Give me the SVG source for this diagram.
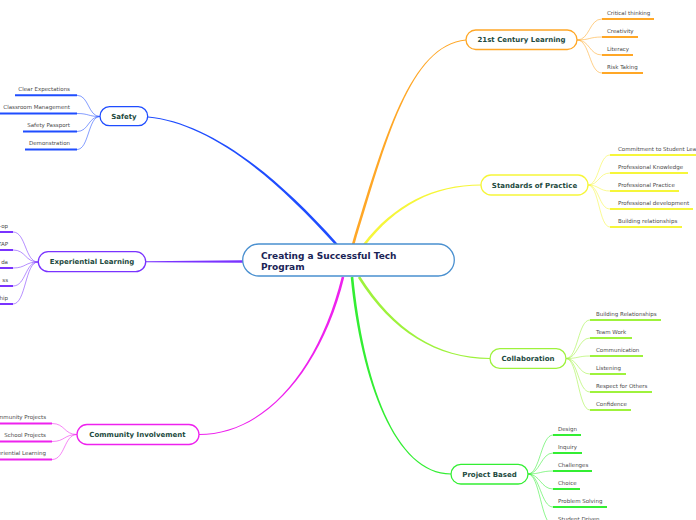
<svg xmlns="http://www.w3.org/2000/svg" width="696" height="520" viewBox="0 0 696 520">
<style>
.bg{fill:#ffffff}
.node{fill:#ffffff;stroke-width:1.3}
.title{font-family:"DejaVu Sans",Verdana,sans-serif;font-weight:bold;font-size:7px;fill:#1d4a3e;text-anchor:middle}
.central{font-family:"DejaVu Sans",Verdana,sans-serif;font-weight:bold;font-size:9px;fill:#1a2456}
.leaf{font-family:"DejaVu Sans",Verdana,sans-serif;font-size:5.5px;fill:#4a4a4a}
.end{text-anchor:end}
.main{stroke:none}
.twig{fill:none;stroke-width:1;stroke-opacity:0.55}
.ul{fill:none;stroke-width:2}
.blue{stroke:#1f4dff}
.purple{stroke:#7a33ff}
.magenta{stroke:#ee22ee}
.orange{stroke:#ffa726}
.yellow{stroke:#f6f63a}
.lime{stroke:#9ef23c}
.green{stroke:#33ee33}
.f-blue{fill:#1f4dff}
.f-purple{fill:#7a33ff}
.f-magenta{fill:#ee22ee}
.f-orange{fill:#ffa726}
.f-yellow{fill:#f6f63a}
.f-lime{fill:#9ef23c}
.f-green{fill:#33ee33}
</style>
<rect class="bg" x="0" y="0" width="696" height="520"/>

<g id="connectors">
  <path class="main f-blue" d="M337.97,244.14 C266.67,163.84 202.75,121.8 148.05,116.5 L147.95,117.5 C202.65,122.8 264.73,165.56 336.03,245.86 Z"/>
  <path class="main f-orange" d="M354.24,245.38 C386.24,140.38 410.05,45.5 466.05,40.5 L465.95,39.5 C409.95,44.5 383.76,139.62 351.76,244.62 Z"/>
  <path class="main f-yellow" d="M365.03,245.79 C395.73,205.79 433.7,185.5 481,185.5 L481,184.5 C433.7,184.5 393.67,204.21 362.97,244.21 Z"/>
  <path class="main f-lime" d="M357.9,277.69 C391.9,331.69 436.7,358.7 490,359 L490,358 C436.7,357.7 394.1,330.31 360.1,276.31 Z"/>
  <path class="main f-green" d="M350.71,277.13 C360.71,380.13 395,474.5 451,474.5 L451,473.5 C395,473.5 363.29,379.87 353.29,276.87 Z"/>
  <path class="main f-magenta" d="M341.74,276.69 C318.74,369.69 265,434 199,434 L199,435 C265,435 321.26,370.31 344.26,277.31 Z"/>
  <path class="main f-purple" d="M243,260.2 L145.5,261.2 L145.5,262.2 L243,262.8 Z"/>

  <!-- Safety leaves -->
  <path class="twig blue" d="M100,116.5 C88,116.5 89,95.3 77,95.3"/>
  <path class="twig blue" d="M100,116.5 C88,116.5 89,113.5 77,113.5"/>
  <path class="twig blue" d="M100,116.5 C88,116.5 89,131.5 77,131.5"/>
  <path class="twig blue" d="M100,116.5 C88,116.5 89,149.5 77,149.5"/>
  <path class="ul blue" d="M15,95.3H77M0,113.5H77M23,131.5H77M25,149.5H77"/>

  <!-- Experiential leaves -->
  <path class="twig purple" d="M38,262 C25,262 26,232 13,232"/>
  <path class="twig purple" d="M38,262 C25,262 26,250 13,250"/>
  <path class="twig purple" d="M38,262 C25,262 26,268 13,268"/>
  <path class="twig purple" d="M38,262 C25,262 26,286 13,286"/>
  <path class="twig purple" d="M38,262 C25,262 26,304 13,304"/>
  <path class="ul purple" d="M0,232H13M0,250H13M0,268H13M0,286H13M0,304H13"/>

  <!-- Community leaves -->
  <path class="twig magenta" d="M77,434.5 C64,434.5 65,423.5 52,423.5"/>
  <path class="twig magenta" d="M77,434.5 C64,434.5 65,441.5 52,441.5"/>
  <path class="twig magenta" d="M77,434.5 C64,434.5 65,459.5 52,459.5"/>
  <path class="ul magenta" d="M0,423.5H52M0,441.5H52M0,459.5H52"/>

  <!-- 21st Century leaves -->
  <path class="twig orange" d="M577,40 C590,40 589,19 602,19"/>
  <path class="twig orange" d="M577,40 C590,40 589,37 602,37"/>
  <path class="twig orange" d="M577,40 C590,40 589,55 602,55"/>
  <path class="twig orange" d="M577,40 C590,40 589,73 602,73"/>
  <path class="ul orange" d="M602,19H654M602,37H638M602,55H633M602,73H643"/>

  <!-- Standards leaves -->
  <path class="twig yellow" d="M588,185 C599,185 599,155 610,155"/>
  <path class="twig yellow" d="M588,185 C599,185 599,173 610,173"/>
  <path class="twig yellow" d="M588,185 C599,185 599,191 610,191"/>
  <path class="twig yellow" d="M588,185 C599,185 599,209 610,209"/>
  <path class="twig yellow" d="M588,185 C599,185 599,227 610,227"/>
  <path class="ul yellow" d="M610,155H700M610,173H688M610,191H679M610,209H693M610,227H682"/>

  <!-- Collaboration leaves -->
  <path class="twig lime" d="M566,358.5 C578,358.5 578,320 590,320"/>
  <path class="twig lime" d="M566,358.5 C578,358.5 578,338 590,338"/>
  <path class="twig lime" d="M566,358.5 C578,358.5 578,356 590,356"/>
  <path class="twig lime" d="M566,358.5 C578,358.5 578,374 590,374"/>
  <path class="twig lime" d="M566,358.5 C578,358.5 578,392 590,392"/>
  <path class="twig lime" d="M566,358.5 C578,358.5 578,410 590,410"/>
  <path class="ul lime" d="M590,320H661M590,338H632M590,356H643M590,374H626M590,392H652M590,410H631"/>

  <!-- Project Based leaves -->
  <path class="twig green" d="M528,474 C540,474 541,435 553,435"/>
  <path class="twig green" d="M528,474 C540,474 541,453 553,453"/>
  <path class="twig green" d="M528,474 C540,474 541,471 553,471"/>
  <path class="twig green" d="M528,474 C540,474 541,489 553,489"/>
  <path class="twig green" d="M528,474 C540,474 541,507 553,507"/>
  <path class="twig green" d="M528,474 C540,474 541,525 553,525"/>
  <path class="ul green" d="M553,435H581M553,453H582M553,471H592M553,489H580M553,507H607M553,525H601"/>
</g>

<g id="central">
  <rect class="node" x="242.7" y="244" width="211.6" height="32" rx="16" stroke="#4a90d0" stroke-width="1.1"/>
  <text class="central" x="261" y="259">Creating a Successful Tech</text>
  <text class="central" x="261" y="269.5">Program</text>
</g>

<g id="safety">
  <rect class="node blue" x="100" y="106.7" width="47.7" height="19" rx="9.5"/>
  <text class="title" x="123.9" y="118.8">Safety</text>
  <text class="leaf end" x="70" y="90.8">Clear Expectations</text>
  <text class="leaf end" x="70" y="109">Classroom Management</text>
  <text class="leaf end" x="70" y="127">Safety Passport</text>
  <text class="leaf end" x="70" y="145">Demonstration</text>
</g>

<g id="experiential">
  <rect class="node purple" x="38.3" y="251.7" width="107.4" height="20" rx="10"/>
  <text class="title" x="92" y="264.3">Experiential Learning</text>
  <text class="leaf end" x="8" y="227.5">-op</text>
  <text class="leaf end" x="8" y="245.5">TAP</text>
  <text class="leaf end" x="8" y="263.5">da</text>
  <text class="leaf end" x="8" y="281.5">ss</text>
  <text class="leaf end" x="8" y="299.5">hip</text>
</g>

<g id="community">
  <rect class="node magenta" x="77" y="424.5" width="122" height="20" rx="10"/>
  <text class="title" x="137.5" y="437.1">Community Involvement</text>
  <text class="leaf end" x="46" y="419">Community Projects</text>
  <text class="leaf end" x="46" y="437">School Projects</text>
  <text class="leaf end" x="46" y="455">Experiential Learning</text>
</g>

<g id="century">
  <rect class="node orange" x="466" y="30" width="111" height="19.5" rx="9.75"/>
  <text class="title" x="521.5" y="42.4">21st Century Learning</text>
  <text class="leaf" x="607" y="14.5">Critical thinking</text>
  <text class="leaf" x="607" y="32.5">Creativity</text>
  <text class="leaf" x="607" y="50.5">Literacy</text>
  <text class="leaf" x="607" y="68.5">Risk Taking</text>
</g>

<g id="standards">
  <rect class="node yellow" x="481" y="175" width="107" height="20" rx="10"/>
  <text class="title" x="534.5" y="187.6">Standards of Practice</text>
  <text class="leaf" x="618" y="150.5">Commitment to Student Learning</text>
  <text class="leaf" x="618" y="168.5">Professional Knowledge</text>
  <text class="leaf" x="618" y="186.5">Professional Practice</text>
  <text class="leaf" x="618" y="204.5">Professional development</text>
  <text class="leaf" x="618" y="222.5">Building relationships</text>
</g>

<g id="collaboration">
  <rect class="node lime" x="490" y="348.7" width="76" height="19.6" rx="9.8"/>
  <text class="title" x="528" y="361.1">Collaboration</text>
  <text class="leaf" x="596" y="315.5">Building Relationships</text>
  <text class="leaf" x="596" y="333.5">Team Work</text>
  <text class="leaf" x="596" y="351.5">Communication</text>
  <text class="leaf" x="596" y="369.5">Listening</text>
  <text class="leaf" x="596" y="387.5">Respect for Others</text>
  <text class="leaf" x="596" y="405.5">Confidence</text>
</g>

<g id="project">
  <rect class="node green" x="451" y="464.3" width="77" height="19.7" rx="9.85"/>
  <text class="title" x="489.5" y="476.8">Project Based</text>
  <text class="leaf" x="558" y="430.5">Design</text>
  <text class="leaf" x="558" y="448.5">Inquiry</text>
  <text class="leaf" x="558" y="466.5">Challenges</text>
  <text class="leaf" x="558" y="484.5">Choice</text>
  <text class="leaf" x="558" y="502.5">Problem Solving</text>
  <text class="leaf" x="558" y="520.5">Student Driven</text>
</g>
</svg>
